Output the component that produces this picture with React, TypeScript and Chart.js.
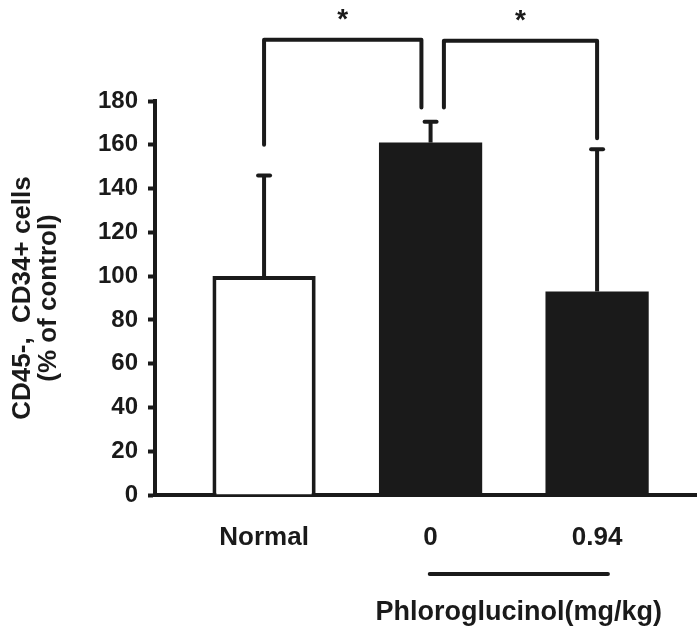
import { useEffect, useRef } from 'react';
import { Chart, registerables } from 'chart.js';

Chart.register(...registerables);

const categories = ['Normal', '0', '0.94'];
const categoryPositions = [0, 1, 2];
const means = [100, 161, 93];
const upperErrors = [46, 9.5, 65];
const barColors = ['#ffffff', '#1a1a1a', '#1a1a1a'];
const barBorders = [4, 0, 0];
const yTicks = [0, 20, 40, 60, 80, 100, 120, 140, 160, 180];
const yTitle = ['CD45-,  CD34+ cells', '(% of control)'];
const brackets = [
  { x1: 0, x2: 0.945, y1: 160, y2: 177, top: 208, label: '*' },
  { x1: 1.08, x2: 2, y1: 177, y2: 163, top: 207.5, label: '*' },
];
const groupLabel = 'Phloroglucinol(mg/kg)';
const groupRange = [0.995, 2.065];

const INK = '#1a1a1a';
const FONT = "'Liberation Sans', Arial, sans-serif";

const annotationsPlugin = {
  id: 'annotations',
  afterDatasetsDraw(chart: any) {
    const { ctx } = chart;
    const xs = chart.scales.x;
    const ys = chart.scales.y;
    const meta = chart.getDatasetMeta(0);
    ctx.save();
    ctx.strokeStyle = INK;
    ctx.fillStyle = INK;
    ctx.lineWidth = 4;
    // error bars (upper only)
    meta.data.forEach((el: any, i: number) => {
      const top = ys.getPixelForValue(means[i] + upperErrors[i]);
      ctx.lineCap = 'butt';
      ctx.beginPath();
      ctx.moveTo(el.x, el.y);
      ctx.lineTo(el.x, top);
      ctx.stroke();
      ctx.lineCap = 'round';
      ctx.beginPath();
      ctx.moveTo(el.x - 6, top);
      ctx.lineTo(el.x + 6, top);
      ctx.stroke();
    });
    // significance brackets
    ctx.lineCap = 'round';
    ctx.lineJoin = 'round';
    brackets.forEach((b) => {
      const xa = xs.getPixelForValue(b.x1);
      const xb = xs.getPixelForValue(b.x2);
      const ya = ys.getPixelForValue(b.y1);
      const yb = ys.getPixelForValue(b.y2);
      const yt = ys.getPixelForValue(b.top);
      ctx.beginPath();
      ctx.moveTo(xa, ya);
      ctx.lineTo(xa, yt);
      ctx.lineTo(xb, yt);
      ctx.lineTo(xb, yb);
      ctx.stroke();
      ctx.font = `bold 28px ${FONT}`;
      ctx.textAlign = 'center';
      ctx.textBaseline = 'alphabetic';
      ctx.fillText(b.label, (xa + xb) / 2, yt - 12);
    });
    // group underline and label
    const ga = xs.getPixelForValue(groupRange[0]);
    const gb = xs.getPixelForValue(groupRange[1]);
    const uy = xs.top + 79;
    ctx.lineCap = 'round';
    ctx.beginPath();
    ctx.moveTo(ga, uy);
    ctx.lineTo(gb, uy);
    ctx.stroke();
    ctx.font = `bold 27px ${FONT}`;
    ctx.textAlign = 'center';
    ctx.textBaseline = 'middle';
    ctx.fillText(groupLabel, (ga + gb) / 2, xs.top + 118);
    ctx.restore();
  },
};

export default function App() {
  const canvasRef = useRef<HTMLCanvasElement | null>(null);

  useEffect(() => {
    document.body.style.margin = '0';
    const canvas = canvasRef.current;
    if (!canvas) return;
    const chart = new Chart(canvas, {
      type: 'bar',
      data: {
        datasets: [
          {
            data: categoryPositions.map((x, i) => ({ x, y: means[i] })),
            backgroundColor: barColors,
            borderColor: INK,
            borderWidth: barBorders,
            barPercentage: 0.62,
            categoryPercentage: 1,
          },
        ],
      },
      options: {
        animation: false,
        responsive: true,
        maintainAspectRatio: false,
        layout: { padding: { top: 101, left: 0, right: 0, bottom: 0 } },
        plugins: {
          legend: { display: false },
          tooltip: { enabled: false },
        },
        scales: {
          x: {
            type: 'linear',
            min: -0.655,
            max: 2.6,
            offset: false,
            grid: { display: false, offset: false },
            border: { display: true, color: INK, width: 4 },
            afterBuildTicks: (scale: any) => {
              scale.ticks = categoryPositions.map((v) => ({ value: v }));
            },
            afterFit: (scale: any) => {
              scale.height = 140;
            },
            ticks: {
              autoSkip: false,
              maxRotation: 0,
              padding: 19,
              color: INK,
              font: { family: FONT, size: 26, weight: 'bold' },
              callback: (value: any) => categories[categoryPositions.indexOf(Number(value))] ?? '',
            },
          },
          y: {
            min: 0,
            max: 180,
            afterBuildTicks: (scale: any) => {
              scale.ticks = yTicks.map((v) => ({ value: v }));
            },
            afterFit: (scale: any) => {
              scale.width = 155;
            },
            grid: {
              display: true,
              drawOnChartArea: false,
              drawTicks: true,
              tickLength: 7,
              tickWidth: 4,
              color: INK,
            },
            border: { display: true, color: INK, width: 4 },
            ticks: {
              padding: 10,
              color: INK,
              font: { family: FONT, size: 24, weight: 'bold' },
            },
            title: {
              display: true,
              text: yTitle,
              color: INK,
              padding: { top: 9, bottom: 0 },
              font: { family: FONT, size: 26, weight: 'bold', lineHeight: 1.03 },
            },
          },
        },
      },
      plugins: [annotationsPlugin],
    } as any);
    return () => chart.destroy();
  }, []);

  return (
    <div style={{ width: 697, height: 635, position: 'relative' }}>
      <canvas ref={canvasRef} />
    </div>
  );
}
